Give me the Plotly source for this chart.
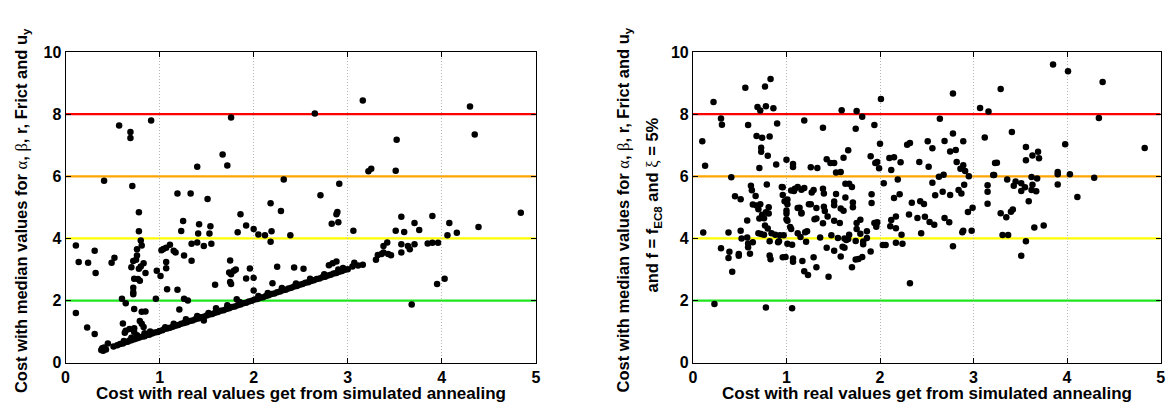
import plotly.graph_objects as go

# ---------------- data ----------------
# Left panel: points off the diagonal
left_pts = [
    (0.11,3.77),(0.14,3.24),(0.11,1.60),(0.24,3.22),(0.23,1.13),(0.31,3.60),(0.32,2.89),(0.31,0.92),(0.41,5.86),
    (0.39,0.46),(0.38,0.41),(0.41,0.49),(0.43,0.42),(0.40,0.38),(0.45,0.62),(0.51,0.52),(0.49,3.22),(0.52,3.38),
    (0.57,7.64),(0.69,7.43),(0.69,7.23),(0.71,5.69),(0.60,2.06),(0.64,1.91),(0.61,1.26),(0.63,0.96),(0.64,1.03),
    (0.70,3.07),(0.72,3.27),(0.72,2.41),(0.72,2.27),(0.72,2.20),(0.73,1.73),(0.73,1.11),(0.68,1.08),(0.73,0.99),
    (0.78,4.84),(0.78,4.23),(0.76,3.65),(0.76,3.45),(0.75,3.31),(0.73,2.70),(0.80,3.93),(0.81,3.77),(0.83,3.20),
    (0.80,3.10),(0.78,3.02),(0.77,2.69),(0.79,2.64),(0.81,1.64),(0.79,1.34),(0.81,1.25),(0.83,1.15),(0.84,0.95),
    (0.85,1.65),(0.85,2.89),(0.91,7.80),(0.97,2.96),(0.96,2.06),(1.01,2.79),(1.02,3.62),(1.04,3.66),(1.07,3.70),
    (1.11,3.80),(1.07,3.24),(1.07,3.04),(1.08,2.36),(1.15,3.60),(1.17,3.55),(1.19,5.45),(1.19,2.35),(1.21,1.71),
    (1.23,4.24),(1.25,4.56),(1.26,3.45),(1.26,2.06),(1.30,2.00),(1.33,5.45),(1.34,3.83),(1.34,3.28),(1.40,6.31),
    (1.40,3.87),(1.41,4.16),(1.42,4.46),(1.47,3.76),(1.51,5.27),(1.53,4.16),(1.54,4.39),(1.55,3.83),(1.59,2.51),
    (1.67,6.70),(1.72,6.35),(1.76,7.89),(1.75,3.29),(1.74,2.90),(1.76,2.85),(1.75,2.60),(1.76,2.53),(1.81,3.00),
    (1.79,2.96),(1.82,2.04),(1.83,4.20),(1.86,4.78),(1.92,4.42),(1.92,2.71),(1.96,3.03),(2.00,4.30),(2.00,2.73),
    (2.00,2.32),(2.05,4.13),(2.12,4.10),(2.18,5.13),(2.19,4.23),(2.18,3.89),(2.20,2.56),(2.25,3.09),(2.29,4.88),
    (2.32,5.90),(2.39,4.10),(2.43,3.06),(2.65,8.02),(2.53,3.02),(2.71,5.39),(2.83,4.47),(2.88,4.78),(2.89,4.85),
    (2.90,4.52),(2.91,5.76),(2.80,3.14),(2.84,3.20),(2.88,3.26),(2.95,3.05),(3.06,4.25),(3.16,8.44),(3.07,3.22),
    (3.11,3.13),(3.16,3.15),(3.22,6.16),(3.25,6.24),(3.30,3.31),(3.32,3.47),(3.36,3.50),(3.38,3.55),(3.43,3.50),
    (3.46,3.46),(3.38,3.76),(3.42,3.87),(3.52,7.18),(3.51,6.18),(3.51,4.25),(3.57,4.70),(3.60,4.21),(3.57,3.81),
    (3.57,3.55),(3.64,3.76),(3.66,3.65),(3.71,3.81),(3.68,1.87),(3.71,4.50),(3.76,4.27),(3.85,3.84),(3.90,3.86),
    (3.96,3.86),(3.90,4.72),(3.95,2.53),(4.03,2.70),(4.06,4.10),(4.08,4.50),(4.16,4.18),(4.30,8.25),(4.35,7.35),
    (4.39,4.37),(4.84,4.83),(1.47,1.36),
]

# Left panel: dense band of points lying close to y = x
diag_pts = [
    (0.55,0.56),(0.58,0.60),(0.61,0.62),(0.63,0.66),(0.66,0.67),(0.68,0.71),(0.70,0.72),(0.73,0.75),(0.75,0.78),
    (0.77,0.79),(0.79,0.82),(0.82,0.84),(0.84,0.85),(0.86,0.89),(0.89,0.90),(0.92,0.94),(0.95,0.97),(0.98,0.99),
    (1.00,1.02),(1.03,1.04),(1.05,1.08),(1.08,1.10),(1.11,1.12),(1.14,1.16),(1.17,1.19),(1.20,1.21),(1.23,1.25),
    (1.26,1.28),(1.29,1.30),(1.32,1.34),(1.35,1.36),(1.38,1.40),(1.41,1.42),(1.44,1.46),(1.47,1.48),(1.50,1.52),
    (1.53,1.55),(1.56,1.57),(1.59,1.61),(1.62,1.63),(1.65,1.67),(1.68,1.69),(1.71,1.73),(1.74,1.75),(1.77,1.79),
    (1.80,1.81),(1.83,1.85),(1.86,1.87),(1.89,1.91),(1.92,1.93),(1.95,1.97),(1.98,1.99),(2.01,2.03),(2.04,2.05),
    (2.07,2.09),(2.10,2.11),(2.13,2.15),(2.16,2.17),(2.19,2.21),(2.22,2.23),(2.25,2.27),(2.28,2.29),(2.31,2.33),
    (2.34,2.35),(2.37,2.39),(2.40,2.41),(2.43,2.45),(2.46,2.47),(2.49,2.51),(2.52,2.53),(2.55,2.57),(2.58,2.59),
    (2.61,2.63),(2.64,2.65),(2.67,2.69),(2.70,2.71),(2.73,2.75),(2.76,2.77),(2.79,2.81),(2.82,2.83),(2.85,2.87),
    (2.88,2.89),(2.91,2.93),(2.94,2.95),(2.97,2.99),(3.00,3.01),
    (0.62,0.70),(0.70,0.80),(0.76,0.88),(0.90,1.00),(1.06,1.14),(1.15,1.25),(1.28,1.40),(1.40,1.50),(1.52,1.60),
    (1.60,1.75),(1.72,1.85),(1.85,1.95),(2.05,2.15),(2.15,2.24),(2.30,2.40),(2.45,2.55),(2.60,2.70),(2.75,2.85),
    (2.90,3.00),(3.05,3.10),
]

# Right panel
right_pts = [
    (0.22,8.39),(0.30,7.86),(0.31,7.66),(0.10,7.13),(0.13,6.34),(0.41,5.97),(0.11,4.19),(0.38,4.19),(0.30,3.68),
    (0.39,3.57),(0.38,3.37),(0.42,2.93),(0.49,3.50),(0.49,3.44),(0.45,5.36),(0.51,5.26),(0.51,4.25),(0.52,4.00),
    (0.58,4.03),(0.59,3.84),(0.59,3.72),(0.61,3.51),(0.58,4.58),(0.56,8.85),(0.59,7.65),(0.62,5.70),(0.63,5.55),
    (0.64,5.09),(0.67,5.37),(0.68,7.30),(0.74,7.24),(0.82,7.28),(0.69,8.23),(0.72,8.12),(0.77,8.89),(0.83,9.13),
    (0.78,8.26),(0.86,8.19),(0.90,7.70),(0.73,6.92),(0.73,6.79),(0.80,6.66),(0.71,6.27),(0.89,6.38),(0.79,5.74),
    (0.68,5.06),(0.70,4.94),(0.72,5.10),(0.74,4.76),(0.76,4.65),(0.71,4.64),(0.78,4.84),(0.81,5.00),(0.81,4.80),
    (0.77,4.42),(0.80,4.32),(0.84,4.17),(0.88,4.12),(0.93,4.10),(0.97,4.10),(0.70,4.17),(0.73,4.14),(0.76,4.12),
    (0.64,3.88),(0.82,3.45),(0.83,3.33),(0.82,3.91),(0.92,3.91),(0.99,3.40),(1.01,3.83),(1.06,3.80),(1.07,3.35),
    (1.07,3.25),(0.96,5.40),(0.98,5.20),(1.01,5.25),(0.96,5.65),(1.00,4.90),(1.01,4.57),(1.05,4.30),(1.05,5.54),
    (1.08,5.53),(1.12,4.98),(1.16,4.83),(1.19,5.62),(1.24,5.10),(1.20,4.20),(1.30,4.62),(0.96,3.39),(0.91,3.88),
    (1.17,3.27),(1.19,2.94),(1.23,2.82),(1.29,3.39),(1.32,3.07),(1.45,2.77),(0.23,1.89),(0.78,1.78),(1.06,1.75),
    (1.59,8.13),(1.19,7.80),(1.39,7.56),(1.00,6.53),(1.07,6.40),(1.07,6.30),(1.26,6.29),(1.33,6.27),(1.43,6.55),
    (1.47,6.43),(1.51,6.43),(1.53,6.12),(1.58,6.14),(1.61,6.60),(0.95,5.66),(1.09,5.60),(1.12,5.66),(1.16,5.57),
    (1.01,5.10),(1.00,4.80),(1.00,4.62),(1.04,4.37),(1.14,4.99),(1.16,4.80),(1.22,4.23),(1.12,4.17),(1.15,4.05),
    (1.27,5.48),(1.29,5.56),(1.26,5.10),(1.32,4.98),(1.32,4.64),(1.39,5.60),(1.40,5.45),(1.40,5.02),(1.41,4.88),
    (1.39,4.49),(1.44,4.71),(1.48,4.10),(1.51,4.57),(1.53,5.43),(1.51,5.19),(1.51,5.07),(1.57,4.50),(1.58,4.96),
    (1.58,3.42),(1.60,3.73),(1.63,5.76),(1.62,4.00),(1.21,3.89),(1.36,4.03),(1.43,3.70),(1.55,4.01),(1.51,3.60),
    (1.75,8.10),(1.81,7.92),(1.74,7.53),(2.01,8.49),(1.94,7.65),(2.00,7.05),(1.66,6.84),(1.90,6.65),(1.95,6.43),
    (1.97,6.46),(1.99,6.26),(2.10,6.59),(2.15,6.61),(2.22,6.45),(2.12,6.20),(2.29,7.02),(2.32,7.07),(2.42,6.46),
    (2.51,7.13),(2.56,6.90),(2.52,6.31),(2.64,7.85),(2.69,7.14),(2.75,6.80),(2.78,7.38),(2.78,8.67),(2.81,6.85),
    (2.89,7.13),(2.82,6.46),(2.86,6.24),(2.89,6.36),(2.91,6.17),(2.84,5.56),(2.87,5.45),(2.90,5.73),(2.95,6.00),
    (3.07,8.20),(3.16,8.09),(3.12,7.25),(3.23,6.43),(3.22,6.04),(2.63,5.99),(2.68,6.05),(2.56,5.79),(2.59,5.39),
    (2.67,5.50),(2.75,5.40),(2.69,4.66),(2.74,4.52),(2.78,3.75),(2.94,4.85),(2.99,4.99),(2.98,4.25),(2.88,4.20),
    (2.89,4.25),(2.58,4.44),(2.53,4.53),(2.48,4.70),(2.44,4.17),(2.47,5.11),(2.43,5.20),(2.34,5.15),(2.40,4.66),
    (2.31,4.77),(2.23,4.12),(2.24,3.83),(2.17,3.86),(2.17,4.71),(2.17,4.33),(2.12,4.59),(2.11,4.39),(2.15,5.30),
    (2.21,5.42),(2.19,5.90),(2.04,5.78),(2.06,3.79),(2.03,3.79),(1.96,4.45),(1.94,4.50),(1.97,4.52),(1.96,4.38),
    (1.91,5.42),(1.91,5.14),(1.90,3.58),(1.86,4.23),(1.86,4.01),(1.81,3.40),(1.82,3.81),(1.79,4.15),(1.79,4.60),
    (1.75,4.50),(1.75,4.30),(1.71,5.16),(1.71,5.00),(1.70,5.66),(1.67,5.76),(1.63,5.32),(1.61,4.89),(1.67,4.12),
    (1.62,3.70),(1.74,3.32),(1.77,3.34),(1.70,3.07),(2.32,2.56),(1.64,3.95),(1.66,3.98),(1.74,3.92),(1.82,3.90),
    (3.85,9.60),(4.01,9.38),(4.38,9.04),(3.29,8.81),(4.34,7.88),(3.41,7.43),(3.56,6.94),(3.69,6.79),(3.70,6.58),
    (3.63,6.67),(3.56,6.52),(3.25,6.44),(3.98,7.03),(4.83,6.91),(3.21,6.04),(3.15,5.71),(3.15,5.50),(3.15,5.12),
    (3.36,5.90),(3.45,5.83),(3.43,5.70),(3.51,5.78),(3.51,5.53),(3.55,5.65),(3.62,5.56),(3.67,5.52),(3.62,5.98),
    (3.63,5.73),(3.68,5.93),(3.59,5.20),(3.90,6.14),(3.90,6.07),(3.90,5.74),(4.03,6.07),(4.11,5.33),(4.29,5.95),
    (3.29,4.81),(3.35,4.68),(3.40,4.86),(3.42,4.93),(3.31,4.11),(3.37,4.11),(3.65,4.35),(3.75,4.42),(3.56,3.91),
    (3.51,3.44),
]

levels = [2, 4, 6, 8]
level_colors = ["#1ee61e", "#ffff00", "#ffa500", "#ff0000"]
x_ticks = [0, 1, 2, 3, 4, 5]
y_ticks = [0, 2, 4, 6, 8, 10]

x_title = "Cost with real values get from simulated annealing"
greek = 'style="font-family:Liberation Serif;font-weight:normal"'
y_title_1 = ("Cost with median values for <span %s>α</span>, <span %s>β</span>, r, Frict and u<sub>y</sub>"
             % (greek, greek))
y_title_2 = "and f = f<sub>EC8</sub> and <span %s>ξ</span> = 5%%" % greek

# ---------------- figure ----------------
W, H = 1166, 410
fig = go.Figure()

lx, ly = zip(*left_pts)
dx, dy = zip(*diag_pts)
rx, ry = zip(*right_pts)

mk = dict(color="black", size=6.5, line=dict(width=0))
fig.add_trace(go.Scatter(x=list(dx) + list(lx), y=list(dy) + list(ly), mode="markers",
                         marker=mk, xaxis="x", yaxis="y", showlegend=False, hoverinfo="x+y"))
fig.add_trace(go.Scatter(x=list(rx), y=list(ry), mode="markers",
                         marker=mk, xaxis="x2", yaxis="y2", showlegend=False, hoverinfo="x+y"))

shapes = []
for xr, yr in (("x", "y"), ("x2", "y2")):
    for lv, c in zip(levels, level_colors):
        shapes.append(dict(type="line", xref=xr, yref=yr, x0=0, x1=5, y0=lv, y1=lv,
                           line=dict(color=c, width=2.2), layer="below"))

tickfont = dict(family="Liberation Sans, Arial, sans-serif", size=16, color="black", weight="bold")
common_x = dict(range=[0, 5], tickvals=x_ticks, ticktext=["<b>%d</b>" % t for t in x_ticks],
                ticks="inside", ticklen=5, tickcolor="black",
                showline=True, linecolor="black", linewidth=1, mirror="ticks",
                showgrid=True, gridcolor="#b4b4b4", griddash="1px,2px", gridwidth=1,
                zeroline=False, tickfont=tickfont, fixedrange=True)
common_y = dict(range=[0, 10], tickvals=y_ticks, ticktext=["<b>%d</b>" % t for t in y_ticks],
                ticks="inside", ticklen=5, tickcolor="black",
                showline=True, linecolor="black", linewidth=1, mirror="ticks",
                showgrid=False, zeroline=False, tickfont=tickfont, fixedrange=True)

ydom = [1 - 370 / H, 1 - 46 / H]
fig.update_layout(
    width=W, height=H,
    margin=dict(l=0, r=0, t=0, b=0),
    paper_bgcolor="white", plot_bgcolor="white",
    xaxis=dict(domain=[62 / W, 536 / W], anchor="y", **common_x),
    yaxis=dict(domain=ydom, anchor="x", **common_y),
    xaxis2=dict(domain=[694.3 / W, 1165.6 / W], anchor="y2", **common_x),
    yaxis2=dict(domain=ydom, anchor="x2", **common_y),
    shapes=shapes,
)

xfont = dict(family="Liberation Sans, Arial, sans-serif", size=17, color="black", weight="bold")
yfont = dict(family="Liberation Sans, Arial, sans-serif", size=16.5, color="black", weight="bold")
ann = [
    dict(text=x_title, x=299 / W, y=1 - 402 / H, font=xfont),
    dict(text=x_title, x=930 / W, y=1 - 402 / H, font=xfont),
    dict(text=y_title_1, x=18 / W, y=1 - 211 / H, textangle=-90, font=yfont),
    dict(text=y_title_1, x=625 / W, y=1 - 211 / H, textangle=-90, font=yfont),
    dict(text=y_title_2, x=654 / W, y=1 - 205 / H, textangle=-90, font=yfont),
]
for a in ann:
    a.update(xref="paper", yref="paper", showarrow=False, xanchor="center", yanchor="middle")
fig.update_layout(annotations=ann)

fig.write_html("out.html", config={"displayModeBar": False},
               post_script="document.body.style.margin='0';document.body.style.overflow='hidden';")
